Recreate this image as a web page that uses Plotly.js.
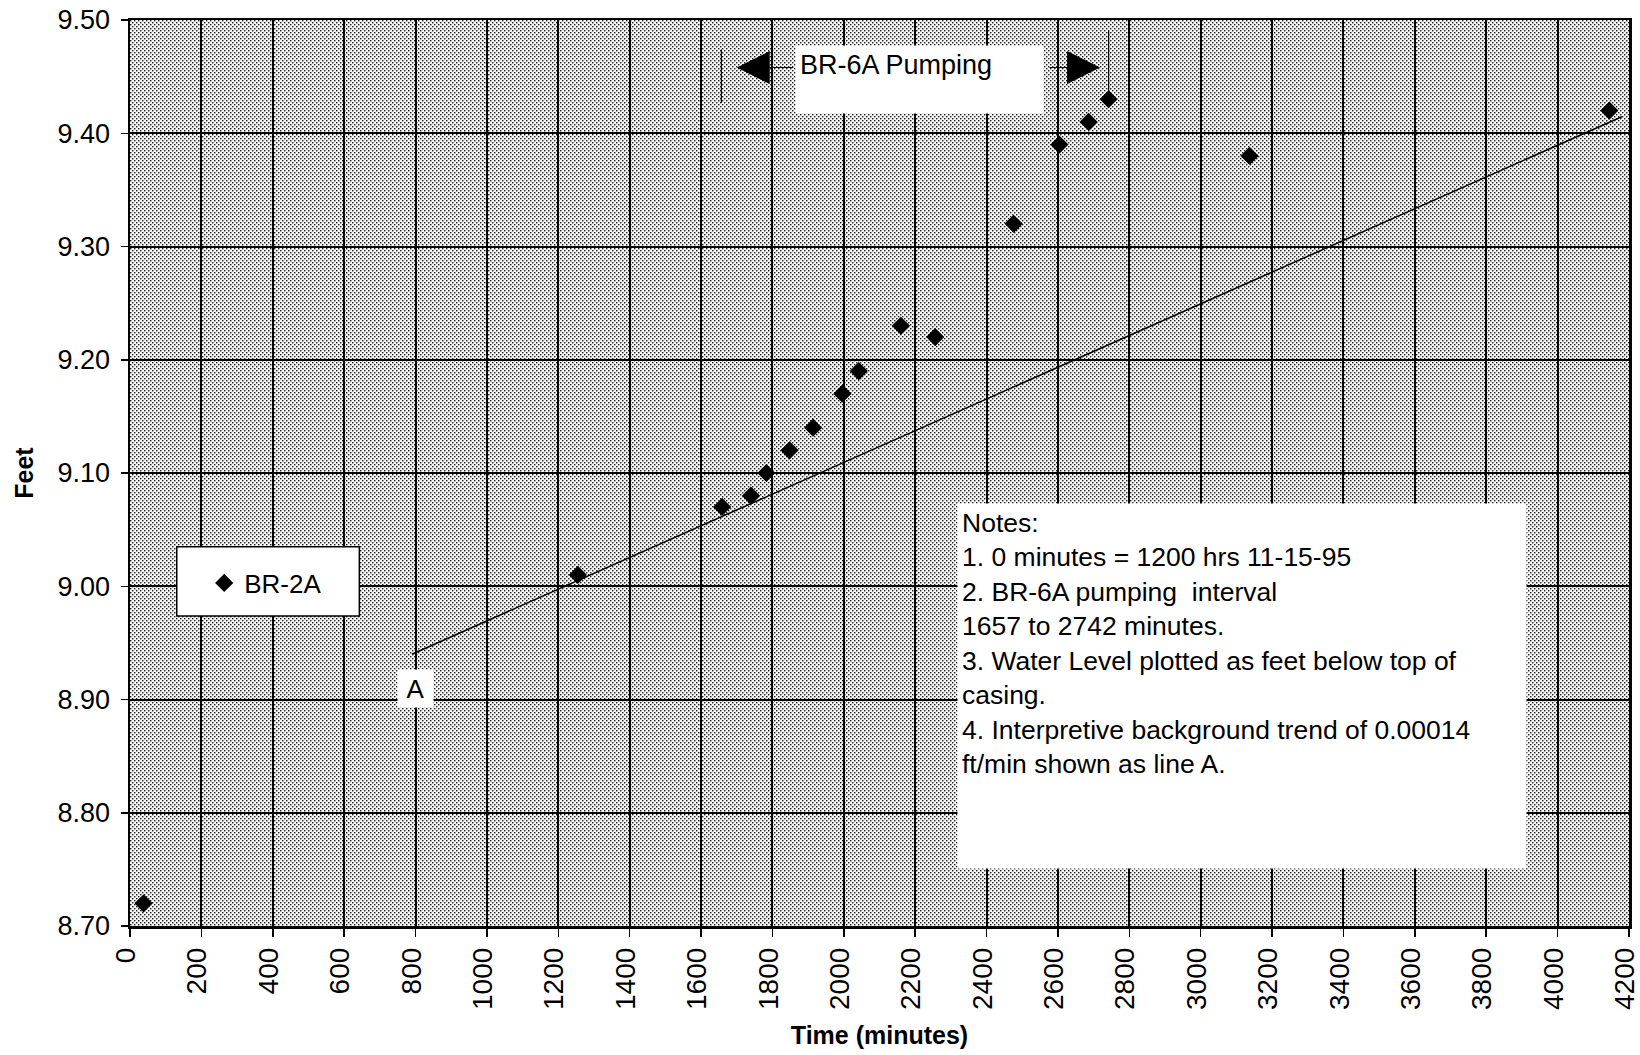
<!DOCTYPE html>
<html>
<head>
<meta charset="utf-8">
<script src="https://cdn.plot.ly/plotly-3.0.1.min.js"></script>
<style>
  html, body { margin: 0; padding: 0; background: #ffffff; }
  #chart { width: 1640px; height: 1055px; }
</style>
</head>
<body>
<div id="chart"></div>
<script>
// BR-2A water level, feet below top of casing, against minutes after 1200 hrs 11-15-95
const timeMin = [38, 1255, 1659, 1740, 1783, 1848, 1914, 1996, 2042, 2160, 2256, 2476, 2604, 2686, 2742, 3137, 4145];
const depthFt = [8.72, 9.01, 9.07, 9.08, 9.10, 9.12, 9.14, 9.17, 9.19, 9.23, 9.22, 9.32, 9.39, 9.41, 9.43, 9.38, 9.42];
const wellName = 'BR-2A';

// BR-6A pumping interval (minutes)
const pumpedWell = 'BR-6A';
const pumpStart = 1657;
const pumpEnd = 2742;

// Interpretive background trend, line A (ft/min)
const trendRate = 0.00014;
const trendX = [790, 4180];
const trendStartY = 8.940;

// Axis ticks
const xTicks = [0, 200, 400, 600, 800, 1000, 1200, 1400, 1600, 1800, 2000, 2200, 2400, 2600, 2800, 3000, 3200, 3400, 3600, 3800, 4000, 4200];
const yTicks = [8.70, 8.80, 8.90, 9.00, 9.10, 9.20, 9.30, 9.40, 9.50];
const yTickText = ['8.70', '8.80', '8.90', '9.00', '9.10', '9.20', '9.30', '9.40', '9.50'];

const trendY = trendX.map(x => trendStartY + trendRate * (x - trendX[0]));

const FONT = 'Liberation Sans, Arial, Helvetica, sans-serif';

// stippled plot-area fill
const stipple =
  "<svg xmlns='http://www.w3.org/2000/svg' width='1499' height='906' viewBox='0 0 1499 906'>" +
  "<defs><pattern id='s' width='4' height='4' patternUnits='userSpaceOnUse'>" +
  "<rect width='4' height='4' fill='#f8f8f8'/>" +
  "<rect x='0' y='0' width='1.4' height='1.4' fill='#1a1a1a'/>" +
  "<rect x='2' y='2' width='1.4' height='1.4' fill='#1a1a1a'/>" +
  "</pattern></defs><rect width='1499' height='906' fill='url(#s)'/></svg>";

const notesText = [
  'Notes:',
  '1. 0 minutes = 1200 hrs 11-15-95',
  '2. ' + pumpedWell + ' pumping  interval',
  pumpStart + ' to ' + pumpEnd + ' minutes.',
  '3. Water Level plotted as feet below top of',
  'casing.',
  '4. Interpretive background trend of ' + trendRate.toFixed(5),
  'ft/min shown as line A.'
].join('<br>');

const traces = [
  {
    x: trendX,
    y: trendY,
    type: 'scatter',
    mode: 'lines',
    line: { color: '#000000', width: 1.5 },
    showlegend: false,
    hoverinfo: 'skip'
  },
  {
    x: timeMin,
    y: depthFt,
    type: 'scatter',
    mode: 'markers',
    name: wellName,
    marker: { symbol: 'diamond', size: 14, color: '#000000' }
  }
];

const markerLineY = { start: [9.427, 9.474], end: [9.431, 9.49] };

const layout = {
  width: 1640,
  height: 1055,
  margin: { l: 130, r: 11, t: 20, b: 129, pad: 0 },
  paper_bgcolor: '#ffffff',
  plot_bgcolor: '#bdbdbd',
  font: { family: FONT, color: '#000000', size: 24 },
  showlegend: true,
  legend: {
    x: 0.0495, xanchor: 'left',
    y: 0.3786, yanchor: 'middle',
    bgcolor: 'rgba(0,0,0,0)',
    borderwidth: 0,
    font: { family: FONT, size: 26, color: '#000000' }
  },
  xaxis: {
    range: [0, 4200],
    tickmode: 'array',
    tickvals: xTicks,
    ticktext: xTicks.map(String),
    tickangle: -90,
    ticks: 'outside',
    ticklen: 8,
    tickwidth: 1.5,
    tickcolor: '#000000',
    ticklabelshift: -4,
    ticklabeloverflow: 'allow',
    tickfont: { family: FONT, size: 28, color: '#000000' },
    showgrid: true,
    gridcolor: '#000000',
    gridwidth: 2,
    zeroline: false,
    showline: true,
    linecolor: '#000000',
    linewidth: 2.5,
    mirror: true,
    title: { text: '<b>Time (minutes)</b>', font: { family: FONT, size: 25, color: '#000000' }, standoff: 18 }
  },
  yaxis: {
    range: [8.70, 9.50],
    tickmode: 'array',
    tickvals: yTicks,
    ticktext: yTickText,
    ticks: 'outside',
    ticklen: 7,
    tickwidth: 1.5,
    tickcolor: '#000000',
    ticklabelstandoff: 5,
    tickfont: { family: FONT, size: 27, color: '#000000' },
    showgrid: true,
    gridcolor: '#000000',
    gridwidth: 2,
    zeroline: false,
    showline: true,
    linecolor: '#000000',
    linewidth: 2.5,
    mirror: true,
    title: { text: '<b>Feet</b>', font: { family: FONT, size: 25, color: '#000000' }, standoff: 17 }
  },
  images: [{
    source: 'data:image/svg+xml;charset=utf-8,' + encodeURIComponent(stipple),
    xref: 'paper', yref: 'paper',
    x: 0, y: 1, sizex: 1, sizey: 1,
    xanchor: 'left', yanchor: 'top',
    sizing: 'stretch',
    layer: 'below'
  }],
  shapes: [
    // legend frame
    {
      type: 'rect', xref: 'paper', yref: 'paper',
      x0: 0.0312, x1: 0.1530, y0: 0.3422, y1: 0.4187,
      fillcolor: '#ffffff',
      line: { color: '#000000', width: 1.5 },
      layer: 'above'
    },
    // pumping interval bounds
    {
      type: 'line', xref: 'x', yref: 'y',
      x0: pumpStart, x1: pumpStart, y0: markerLineY.start[0], y1: markerLineY.start[1],
      line: { color: '#000000', width: 1.2 }
    },
    {
      type: 'line', xref: 'x', yref: 'y',
      x0: pumpEnd, x1: pumpEnd, y0: markerLineY.end[0], y1: markerLineY.end[1],
      line: { color: '#000000', width: 1.2 }
    }
  ],
  annotations: [
    // pumping arrows
    {
      xref: 'x', yref: 'y', x: 1700, y: 9.458,
      text: '', showarrow: true,
      ax: 58, ay: 0,
      arrowhead: 2, arrowsize: 6.6, arrowwidth: 1, arrowcolor: '#000000',
      standoff: 0
    },
    {
      xref: 'x', yref: 'y', x: 2718, y: 9.458,
      text: '', showarrow: true,
      ax: -52, ay: 0,
      arrowhead: 2, arrowsize: 6.6, arrowwidth: 1, arrowcolor: '#000000',
      standoff: 0
    },
    // pumping label
    {
      xref: 'paper', yref: 'paper', x: 0.4436, y: 0.9724,
      xanchor: 'left', yanchor: 'top',
      text: pumpedWell + ' Pumping',
      showarrow: false,
      align: 'left', valign: 'top',
      width: 239, height: 59, borderpad: 4,
      bgcolor: '#ffffff',
      font: { family: FONT, size: 27, color: '#000000' }
    },
    // line A label
    {
      xref: 'x', yref: 'y', x: 800, y: 8.91,
      text: 'A', showarrow: false,
      width: 27, height: 29, borderpad: 4,
      bgcolor: '#ffffff',
      font: { family: FONT, size: 26, color: '#000000' }
    },
    // notes
    {
      xref: 'paper', yref: 'paper', x: 0.5517, y: 0.4669,
      xanchor: 'left', yanchor: 'top',
      text: notesText,
      showarrow: false,
      align: 'left', valign: 'top',
      width: 560, height: 356, borderpad: 4,
      bgcolor: '#ffffff',
      font: { family: FONT, size: 26.5, color: '#000000' }
    }
  ]
};

Plotly.newPlot('chart', traces, layout, { displayModeBar: false, staticPlot: true });
</script>
</body>
</html>
